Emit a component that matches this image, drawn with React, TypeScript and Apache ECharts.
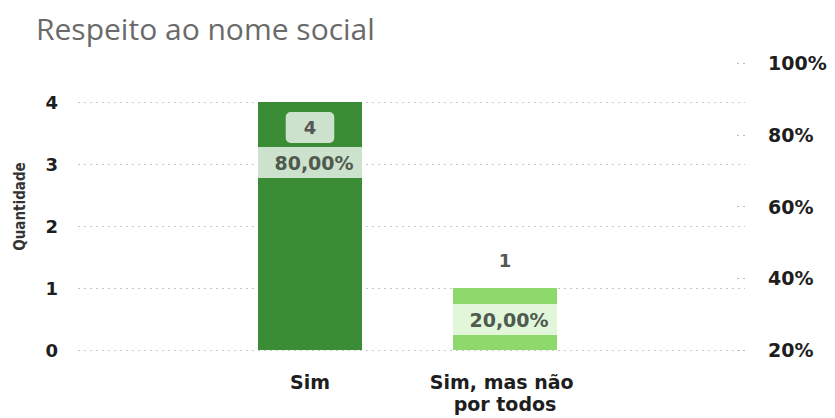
import React, { useEffect, useRef } from "react";
import * as echarts from "echarts";

const chartTitle = "Respeito ao nome social";
const categories = ["Sim", "Sim, mas não por todos"];
const counts = [4, 1];
const leftTicks = [0, 1, 2, 3, 4];
const rightTicks = [20, 40, 60, 80, 100];

const FONT = "'DejaVu Sans', 'Open Sans', sans-serif";
const barColors = ["#3a8d34", "#8dd96c"];

export default function App() {
  const ref = useRef<HTMLDivElement>(null);
  useEffect(() => {
    if (!ref.current) return;
    const chart = echarts.init(ref.current, null, { renderer: "svg" });
    const total = counts.reduce((a, b) => a + b, 0);
    const pctText = (v: number) => ((v / total) * 100).toFixed(2).replace(".", ",") + "%";

    const gridLeft = 78;
    const gridRight = 90;
    const gridTop = 63;
    const gridBottom = 68;
    const plotW = 835 - gridLeft - gridRight;
    const band = 195;
    const firstCenter = 310 - gridLeft;
    const xMin = -firstCenter / band;
    const xMax = (categories.length - 1) + (plotW - firstCenter - band * (categories.length - 1)) / band;

    const leftMax = 4.63;
    const splitColors = leftTicks.map(() => "#c8c8c8").concat(["rgba(0,0,0,0)"]);

    const valueLabels = [
      {
        show: true,
        position: "insideTop",
        distance: 10,
        backgroundColor: "rgba(255,255,255,0.75)",
        borderRadius: 5,
        padding: [6, 18],
        lineHeight: 19,
      },
      { show: true, position: "top", distance: 19 },
    ];
    const pctLabels = [
      { show: true, position: "insideTop", distance: 45 },
      { show: true, position: "insideTop", distance: 16 },
    ];
    const pctBg = ["rgba(255,255,255,0.75)", "rgba(255,255,255,0.75)"];

    chart.setOption({
      animation: false,
      title: {
        text: chartTitle,
        left: 31,
        top: 8,
        textStyle: { fontFamily: "'Open Sans', sans-serif", fontSize: 30, fontWeight: "normal", color: "#6a6a6a" },
      },
      grid: { left: gridLeft, right: gridRight, top: gridTop, bottom: gridBottom, containLabel: false },
      xAxis: {
        type: "value",
        min: xMin,
        max: xMax,
        axisLine: { show: false },
        axisTick: { show: false },
        splitLine: { show: false },
        axisLabel: {
          show: true,
          showMinLabel: false,
          showMaxLabel: false,
          margin: 21,
          fontFamily: FONT,
          fontSize: 19,
          fontWeight: "bold",
          color: "#1e1e1e",
          lineHeight: 22,
          width: 160,
          overflow: "break",
          formatter: (v: number) => {
            const r = Math.round(v);
            if (Math.abs(v - r) > 1e-6) return "";
            return categories[r] ?? "";
          },
        },
      },
      yAxis: [
        {
          type: "value",
          min: leftTicks[0],
          max: leftMax,
          interval: 1,
          name: "Quantidade",
          nameLocation: "middle",
          nameRotate: 90,
          nameGap: 51,
          nameTextStyle: {
            fontFamily: "'DejaVu Sans Condensed', 'Liberation Sans Narrow', sans-serif",
            fontSize: 15,
            fontWeight: "bold",
            color: "#333",
          },
          axisLine: { show: false },
          axisTick: { show: false },
          axisLabel: {
            margin: 20,
            fontFamily: FONT,
            fontSize: 18,
            fontWeight: "bold",
            color: "#1e1e1e",
            formatter: (v: number) => (leftTicks.includes(v) ? String(v) : ""),
          },
          splitLine: { show: true, lineStyle: { type: [2, 4], color: splitColors, width: 1 } },
        },
        {
          type: "value",
          position: "right",
          min: rightTicks[0],
          max: rightTicks[rightTicks.length - 1],
          interval: rightTicks[1] - rightTicks[0],
          axisLine: { show: false },
          axisTick: { show: true, inside: true, length: 12, lineStyle: { type: [2, 4], color: "#bbb" } },
          splitLine: { show: false },
          axisLabel: {
            margin: 23,
            fontFamily: FONT,
            fontSize: 19,
            fontWeight: "bold",
            color: "#1e1e1e",
            formatter: "{value}%",
          },
        },
      ],
      series: [
        {
          type: "bar",
          yAxisIndex: 0,
          barWidth: 104,
          barGap: "-100%",
          data: counts.map((v, i) => ({
            value: [i, v],
            itemStyle: { color: barColors[i] },
            label: {
              ...valueLabels[i],
              fontFamily: FONT,
              fontSize: 18,
              fontWeight: "bold",
              color: "#555",
              formatter: (p: any) => String(p.value[1]),
            },
          })),
        },
        {
          type: "bar",
          yAxisIndex: 0,
          barWidth: 104,
          barGap: "-100%",
          silent: true,
          data: counts.map((v, i) => ({
            value: [i, v],
            itemStyle: { color: "rgba(0,0,0,0)" },
            label: {
              ...pctLabels[i],
              fontFamily: FONT,
              fontSize: 19,
              fontWeight: "bold",
              color: "#4f5a4f",
              backgroundColor: pctBg[i],
              width: 96,
              height: 31,
              lineHeight: 31,
              padding: [0, 0, 0, 8],
              align: "center",
              formatter: (p: any) => pctText(p.value[1]),
            },
          })),
        },
      ],
    });
    return () => chart.dispose();
  }, []);
  return <div ref={ref} style={{ width: 835, height: 418, position: "absolute", left: 0, top: 0 }} />;
}
